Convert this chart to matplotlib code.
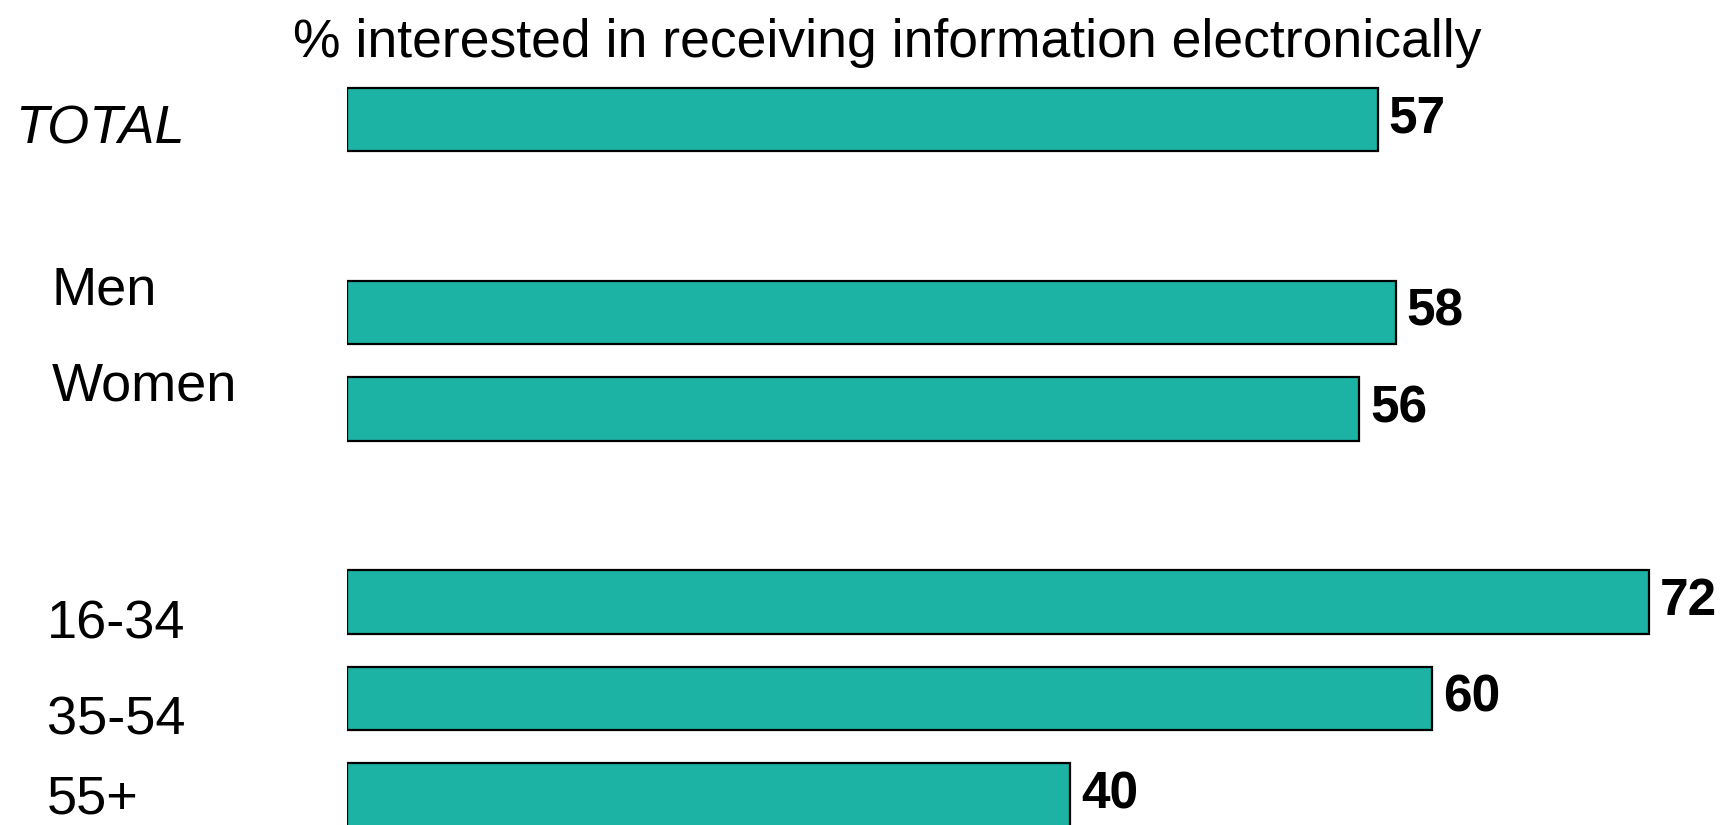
import matplotlib.pyplot as plt
import matplotlib.transforms as mtransforms

# данные
categories = ["TOTAL", "Men", "Women", "16-34", "35-54", "55+"]
values = [57, 58, 56, 72, 60, 40]
slots = [0, 2, 3, 5, 6, 7]
title = "% interested in receiving information electronically"

BAR_COLOR = "#1cb2a4"

plt.rcParams["font.family"] = ["Liberation Sans", "DejaVu Sans"]

fig = plt.figure(figsize=(17.31, 8.25), dpi=100)
left = 347 / 1731
ax = fig.add_axes([left, 0, 1 - left, 1])

ax.barh(slots, values, height=0.66, color=BAR_COLOR, edgecolor="black", linewidth=1.6)
ax.set_xlim(0, (1731 - 347) / 18.08)
ax.set_ylim(7.311, -1.238)
ax.axis("off")

for y, v in zip(slots, values):
    ax.text(v + 0.6, y, str(v), va="center", ha="left", fontsize=37,
            fontweight="bold", fontfamily="Liberation Sans")

# подписи категорий (в исходнике сдвинуты относительно столбиков)
tr = mtransforms.blended_transform_factory(fig.transFigure, ax.transData)
label_x = [15, 52, 52, 47, 47, 47]
label_dy = [0.1, -0.23, -0.23, 0.23, 0.23, 0.05]
for name, y, lx, dy in zip(categories, slots, label_x, label_dy):
    ax.text(lx / 1731, y + dy, name, transform=tr, va="center", ha="left",
            fontsize=39, fontstyle="italic" if name == "TOTAL" else "normal")

fig.text(887 / 1731, 1 - 43 / 825, title, ha="center", va="center", fontsize=38.5)

fig.savefig("out.png", dpi=100)
